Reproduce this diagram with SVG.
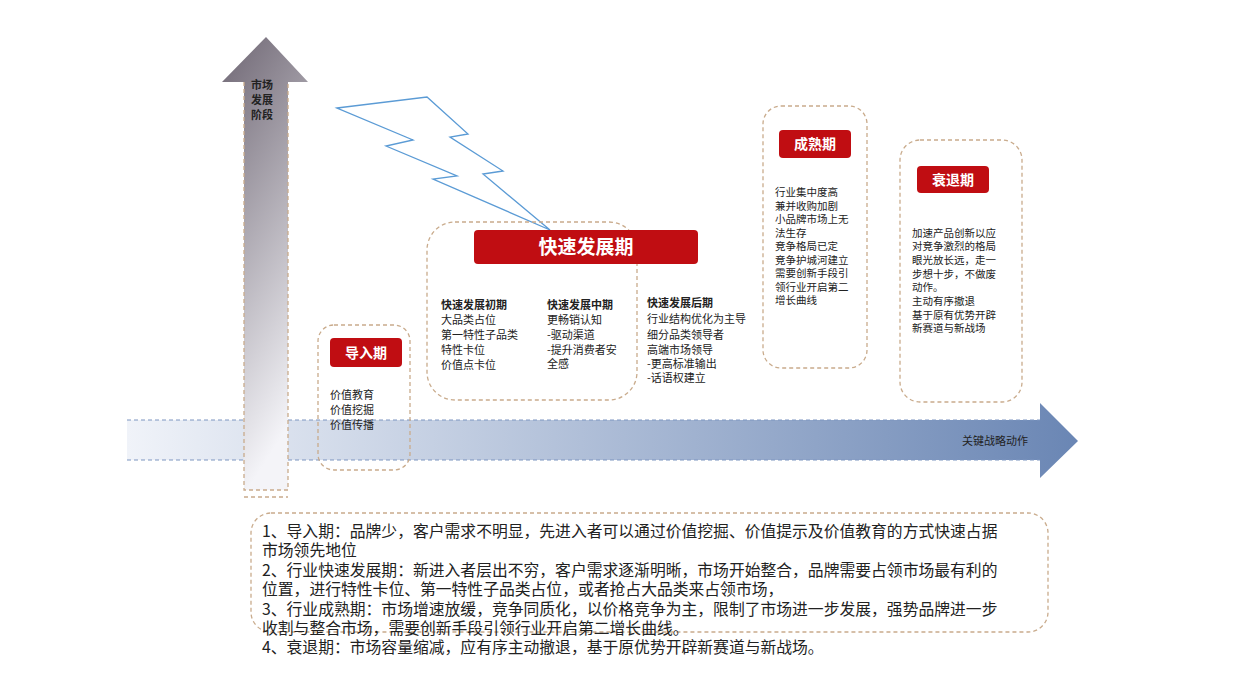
<svg xmlns="http://www.w3.org/2000/svg" width="1240" height="698" viewBox="0 0 1240 698">
<defs>
<linearGradient id="gv" x1="0" y1="0" x2="0.3" y2="1"><stop offset="0" stop-color="#6e6673"/><stop offset="1" stop-color="#f4f4f8"/></linearGradient>
<linearGradient id="gh" x1="0" y1="0" x2="1" y2="0"><stop offset="0" stop-color="#f0f3f9"/><stop offset="1" stop-color="#6a86b4"/></linearGradient>
<style>
text{font-family:"Noto Sans CJK SC","Liberation Sans",sans-serif;fill:#222}
.d{fill:none;stroke:#c9ab8c;stroke-width:1.3;stroke-dasharray:4 3}
.lab{fill:#c00d12}
.lt{fill:#fff;font-weight:bold;font-size:14px}
.s{font-size:11px}
.m{font-size:10.5px}
.b{font-size:15.8px}
</style>
</defs>
<g id="axes">
<polygon points="127,420 1040,420 1040,403 1078,441 1040,478 1040,460 127,460" fill="url(#gh)"/>
<path d="M127,420 H1040 M127,460 H1040" stroke="#7d95c0" stroke-width="1" stroke-dasharray="4 3" fill="none"/>
<polygon points="244,490 244,82 222,82 266,37 308,82 288,82 288,490" fill="url(#gv)"/>
<path d="M244,82 V490 H288 V82 M244,497 H288" class="d"/>
<text x="251" y="89" font-size="11" font-weight="bold">市场</text>
<text x="251" y="104" font-size="11" font-weight="bold">发展</text>
<text x="251" y="119" font-size="11" font-weight="bold">阶段</text>
<text x="962" y="445" font-size="11">关键战略动作</text>
</g>
<g id="bolt">
<polygon points="337,108 427,97 468,134 450,137 503,171 483,174 550,230 433,179 457,176 386,146 413,140" fill="#fff" stroke="#5b9bd5" stroke-width="1.3"/>
</g>
<g id="intro">
<rect x="318" y="325" width="92" height="145" rx="16" class="d"/>
<rect x="330" y="338" width="72" height="29" rx="4" class="lab"/>
<text x="366" y="358" text-anchor="middle" class="lt">导入期</text>
<text class="s" x="330" y="399">价值教育</text>
<text class="s" x="330" y="414">价值挖掘</text>
<text class="s" x="330" y="429">价值传播</text>
</g>
<g id="growth">
<rect x="427" y="222" width="210" height="178" rx="28" class="d"/>
<rect x="474" y="230" width="224" height="34" rx="4" class="lab"/>
<text x="586" y="254" text-anchor="middle" class="lt" style="font-size:19px">快速发展期</text>
<text class="s" x="441" y="309" font-weight="bold">快速发展初期</text>
<text class="s" x="441" y="324">大品类占位</text>
<text class="s" x="441" y="339">第一特性子品类</text>
<text class="s" x="441" y="354">特性卡位</text>
<text class="s" x="441" y="369">价值点卡位</text>
<text class="s" x="547" y="309" font-weight="bold">快速发展中期</text>
<text class="s" x="547" y="324">更畅销认知</text>
<text class="s" x="547" y="339">-驱动渠道</text>
<text class="s" x="547" y="354">-提升消费者安</text>
<text class="s" x="547" y="368">全感</text>
<text class="s" x="647" y="307" font-weight="bold">快速发展后期</text>
<text class="s" x="647" y="323">行业结构优化为主导</text>
<text class="s" x="647" y="339">细分品类领导者</text>
<text class="s" x="647" y="354">高端市场领导</text>
<text class="s" x="647" y="368">-更高标准输出</text>
<text class="s" x="647" y="382">-话语权建立</text>
</g>
<g id="mature">
<rect x="763" y="106" width="104" height="262" rx="18" class="d"/>
<rect x="779" y="130" width="72" height="28" rx="4" class="lab"/>
<text x="815" y="149" text-anchor="middle" class="lt">成熟期</text>
<text class="m" x="775" y="196">行业集中度高</text>
<text class="m" x="775" y="210">兼并收购加剧</text>
<text class="m" x="775" y="223">小品牌市场上无</text>
<text class="m" x="775" y="237">法生存</text>
<text class="m" x="775" y="250">竞争格局已定</text>
<text class="m" x="775" y="264">竞争护城河建立</text>
<text class="m" x="775" y="277">需要创新手段引</text>
<text class="m" x="775" y="291">领行业开启第二</text>
<text class="m" x="775" y="304">增长曲线</text>
</g>
<g id="decline">
<rect x="900" y="140" width="122" height="262" rx="20" class="d"/>
<rect x="917" y="166" width="72" height="27" rx="4" class="lab"/>
<text x="953" y="185" text-anchor="middle" class="lt">衰退期</text>
<text class="m" x="912" y="237">加速产品创新以应</text>
<text class="m" x="912" y="250">对竞争激烈的格局</text>
<text class="m" x="912" y="264">眼光放长远，走一</text>
<text class="m" x="912" y="278">步想十步，不做废</text>
<text class="m" x="912" y="291">动作。</text>
<text class="m" x="912" y="305">主动有序撤退</text>
<text class="m" x="912" y="319">基于原有优势开辟</text>
<text class="m" x="912" y="332">新赛道与新战场</text>
</g>
<g id="summary">
<rect x="251" y="513" width="797" height="119" rx="20" class="d"/>
<text class="b" x="262" y="537">1、导入期：品牌少，客户需求不明显，先进入者可以通过价值挖掘、价值提示及价值教育的方式快速占据</text>
<text class="b" x="262" y="556">市场领先地位</text>
<text class="b" x="262" y="576">2、行业快速发展期：新进入者层出不穷，客户需求逐渐明晰，市场开始整合，品牌需要占领市场最有利的</text>
<text class="b" x="262" y="595">位置，进行特性卡位、第一特性子品类占位，或者抢占大品类来占领市场，</text>
<text class="b" x="262" y="615">3、行业成熟期：市场增速放缓，竞争同质化，以价格竞争为主，限制了市场进一步发展，强势品牌进一步</text>
<text class="b" x="262" y="634">收割与整合市场，需要创新手段引领行业开启第二增长曲线。</text>
<text class="b" x="262" y="653">4、衰退期：市场容量缩减，应有序主动撤退，基于原优势开辟新赛道与新战场。</text>
</g>
</svg>
